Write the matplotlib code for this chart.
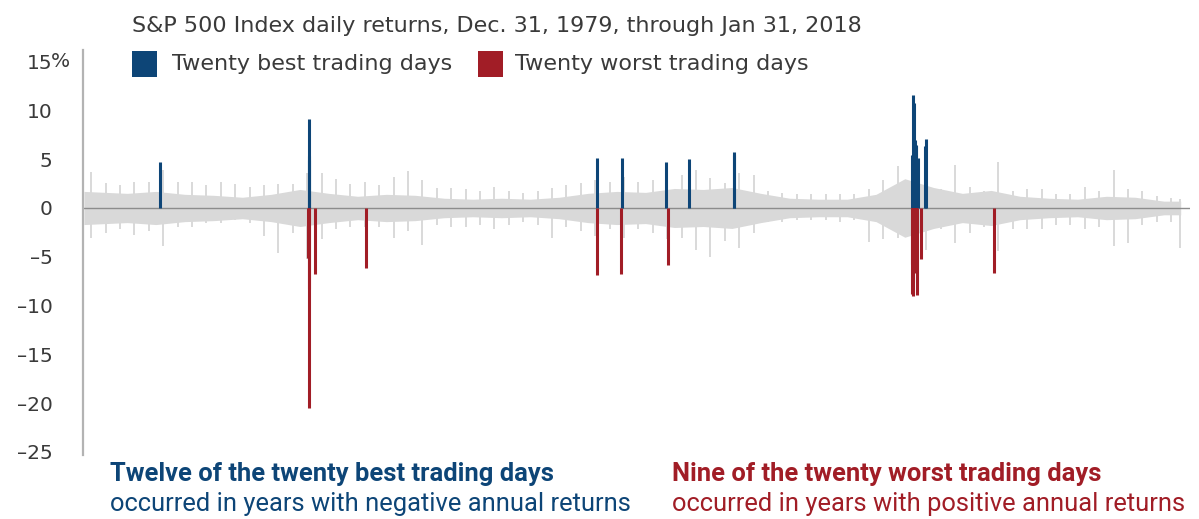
import numpy as np
import pandas as pd
import matplotlib
matplotlib.use("Agg")
import matplotlib.pyplot as plt
import matplotlib.transforms as mtransforms
from matplotlib.patches import Rectangle

plt.rcParams['font.family'] = ['DejaVu Sans']

# twenty best / worst trading days (date, % return)
best_dates = ['1982-08-17', '1987-10-20', '1987-10-21', '1987-10-29', '1997-10-28',
              '1998-09-08', '2000-03-16', '2001-01-03', '2002-07-24', '2002-07-29',
              '2008-09-30', '2008-10-13', '2008-10-20', '2008-10-28', '2008-11-13',
              '2008-11-21', '2008-11-24', '2008-12-16', '2009-03-10', '2009-03-23']
best_vals = [4.76, 5.33, 9.10, 4.93, 5.12,
             5.09, 4.76, 5.01, 5.73, 5.41,
             5.42, 11.58, 4.77, 10.79, 6.92,
             6.32, 6.47, 5.14, 6.37, 7.08]

worst_dates = ['1987-10-16', '1987-10-19', '1987-10-26', '1988-01-08', '1989-10-13',
               '1997-10-27', '1998-08-31', '2000-04-14', '2008-09-29', '2008-10-07',
               '2008-10-09', '2008-10-15', '2008-10-22', '2008-11-05', '2008-11-12',
               '2008-11-19', '2008-11-20', '2008-12-01', '2009-01-20', '2011-08-08']
worst_vals = [-5.16, -20.47, -8.28, -6.77, -6.12,
              -6.87, -6.80, -5.83, -8.79, -5.74,
              -7.62, -9.03, -6.10, -5.27, -5.19,
              -6.12, -6.71, -8.93, -5.28, -6.66]

# other daily returns, read as half-year peak values (1980.0 onwards, last bin = Jan 2018)
gray_up = [3.7, 2.6, 2.4, 2.7, 2.7, 3.9, 2.7, 2.7, 2.4, 2.7,
           2.5, 2.2, 2.4, 2.5, 2.5, 3.6, 3.6, 3.0, 2.5, 2.7,
           2.4, 3.2, 3.8, 2.9, 2.0, 2.0, 1.9, 1.7, 2.2, 1.7,
           1.5, 1.7, 2.0, 2.4, 2.6, 2.9, 2.7, 3.2, 2.7, 2.9,
           3.4, 3.4, 3.9, 3.1, 2.6, 3.6, 3.4, 1.7, 1.5, 1.4,
           1.4, 1.4, 1.4, 1.4, 1.9, 2.9, 4.3, 4.0, 3.2, 1.9,
           4.4, 2.2, 1.7, 4.7, 1.7, 1.9, 1.9, 1.4, 1.4, 2.2,
           1.7, 3.9, 1.9, 1.7, 1.2, 1.0, 0.9]
gray_dn = [-3.1, -2.6, -2.2, -2.8, -2.4, -3.9, -1.9, -1.9, -1.5, -1.5,
           -1.2, -1.5, -2.9, -4.6, -2.6, -5.2, -3.2, -2.2, -2.0, -1.9,
           -2.0, -3.1, -2.4, -3.8, -1.7, -1.9, -1.9, -1.7, -2.2, -1.7,
           -1.4, -1.7, -3.1, -2.0, -2.4, -2.9, -2.2, -3.1, -2.2, -2.6,
           -3.2, -3.1, -4.3, -5.0, -3.4, -4.1, -2.6, -1.4, -1.4, -1.2,
           -1.2, -1.2, -1.4, -1.2, -3.5, -3.2, -3.1, -5.0, -4.3, -2.2,
           -3.6, -2.6, -2.0, -4.4, -2.2, -2.2, -2.2, -1.7, -1.7, -2.2,
           -1.9, -3.9, -3.6, -1.7, -1.4, -1.4, -4.1]
# typical (dense) daily range per year, 1980..2018
gray_body = [1.7, 1.5, 1.7, 1.4, 1.3, 1.1, 1.4, 1.9, 1.5, 1.2,
             1.4, 1.3, 1.0, 0.9, 1.0, 0.9, 1.1, 1.5, 1.7, 1.6,
             2.0, 1.9, 2.1, 1.5, 1.0, 0.9, 0.9, 1.4, 3.0, 2.1,
             1.5, 1.8, 1.2, 1.0, 0.9, 1.2, 1.1, 0.7, 0.7]

yticks = [15, 10, 5, 0, -5, -10, -15, -20, -25]
ytick_labels = ['15', '10', '5', '0', '–5', '–10', '–15', '–20', '–25']


def dec_year(dates):
    d = pd.to_datetime(pd.Series(dates))
    return (d.dt.year + (d.dt.dayofyear - 1) / 365.25).to_numpy()


W, H = 1199, 519
fig = plt.figure(figsize=(W / 100, H / 100), dpi=100)
ax = fig.add_axes([83 / W, (H - 455) / H, (1190 - 83) / W, (455 - 50) / H])
ax.set_xlim(1980.0 - 1 / 28.8, 1980.0 + (1190 - 84) / 28.8)
ax.set_ylim(-25.33, 16.2)

gray = '#d9d9d9'
blue = '#0d4577'
red = '#a11d26'
txt = '#3a3a3a'

# dense body of daily returns
yr_mid = np.arange(1980, 2019) + 0.5
yr_mid[0], yr_mid[-1] = 1980.0, 2018.08
ax.fill_between(yr_mid, -np.array(gray_body), gray_body, color=gray, lw=0, zorder=1)

# half-year peaks
hx = 1980.0 + 0.5 * np.arange(len(gray_up)) + 0.25
hx[-1] = 2018.06
ax.vlines(hx, 0, gray_up, color=gray, lw=1.4, zorder=1)
ax.vlines(hx, gray_dn, 0, color=gray, lw=1.4, zorder=1)

ax.axhline(0, color='#8c8c8c', lw=1.0, zorder=2)

ax.vlines(dec_year(best_dates), 0, best_vals, color=blue, lw=2.2, zorder=3)
ax.vlines(dec_year(worst_dates), worst_vals, 0, color=red, lw=2.2, zorder=3)

for s in ['top', 'right', 'bottom']:
    ax.spines[s].set_visible(False)
ax.spines['left'].set_color('#b3b3b3')
ax.spines['left'].set_linewidth(1.6)
ax.set_xticks([])
ax.set_yticks(yticks)
ax.set_yticklabels(ytick_labels)
ax.tick_params(axis='y', length=0, pad=22, labelsize=14.5, labelcolor=txt)
pct_tr = mtransforms.blended_transform_factory(fig.transFigure, ax.transData)
fig.text(51 / W, 15, '%', ha='left', va='center', fontsize=14.5, color=txt,
         transform=pct_tr)

# title and legend
fig.text(132 / W, 1 - 26 / H, 'S&P 500 Index daily returns, Dec. 31, 1979, through Jan 31, 2018',
         ha='left', va='center', fontsize=16, color=txt)
fig.add_artist(Rectangle((132 / W, 1 - 77 / H), 25 / W, 26 / H, transform=fig.transFigure,
                         color=blue, lw=0))
fig.text(172 / W, 1 - 64 / H, 'Twenty best trading days', ha='left', va='center',
         fontsize=16, color=txt)
fig.add_artist(Rectangle((478 / W, 1 - 77 / H), 25 / W, 26 / H, transform=fig.transFigure,
                         color=red, lw=0))
fig.text(515 / W, 1 - 64 / H, 'Twenty worst trading days', ha='left', va='center',
         fontsize=16, color=txt)

# bottom notes
note_font = ['Roboto', 'DejaVu Sans']
fig.text(110 / W, 1 - 474 / H, 'Twelve of the twenty best trading days', ha='left',
         va='center', fontsize=18.4, fontweight='bold', color=blue, family=note_font)
fig.text(110 / W, 1 - 504 / H, 'occurred in years with negative annual returns', ha='left',
         va='center', fontsize=18.4, color=blue, family=note_font)
fig.text(672 / W, 1 - 474 / H, 'Nine of the twenty worst trading days', ha='left',
         va='center', fontsize=18.4, fontweight='bold', color=red, family=note_font)
fig.text(672 / W, 1 - 504 / H, 'occurred in years with positive annual returns', ha='left',
         va='center', fontsize=18.4, color=red, family=note_font)

fig.savefig('out.png', dpi=100)
